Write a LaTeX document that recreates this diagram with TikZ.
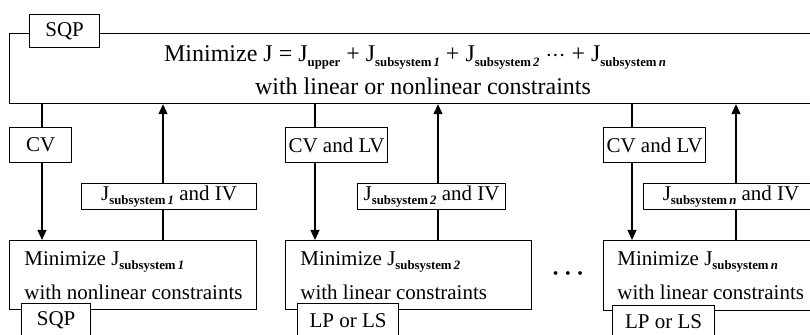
\documentclass[tikz,border=0pt]{standalone}
\usepackage{fontspec}
\setmainfont{Liberation Serif}
\usetikzlibrary{arrows.meta, positioning}

\newcommand{\lowsub}[1]{\raisebox{-0.45ex}{\fontsize{6.4}{7}\selectfont\bfseries #1}}
\newcommand{\Jsub}[1]{J\lowsub{subsystem\,\textit{#1}}}

\begin{document}
\begin{tikzpicture}[
    x=0.5pt, y=-0.5pt,
    frame/.style={rectangle, draw, semithick, anchor=north west, inner sep=0pt},
    tag/.style={rectangle, draw, semithick, fill=white, anchor=north west,
                inner sep=0pt, font=\fontsize{10.5}{12}\selectfont},
    txt/.style={inner sep=0pt, font=\fontsize{10.5}{12}\selectfont},
    toptxt/.style={inner sep=0pt, font=\fontsize{12}{14}\selectfont},
    link/.style={semithick},
    arr/.style={semithick, -{Triangle[length=5pt, width=4.5pt]}},
]
\useasboundingbox (0,0) rectangle (810,335);

% Upper level
\node[frame, minimum width=405pt, minimum height=35pt] (top) at (9,33) {};
\node[tag, minimum width=35pt, minimum height=16.5pt] (sqp0) at (29,14) {SQP};
\node[toptxt] (obj) at (415,57)
     {Minimize J = J\lowsub{upper} + \Jsub{1} + \Jsub{2} ${\cdot}{\cdot}{\cdot}$ + \Jsub{n}};
\node[toptxt] (cons) at (423,86) {with linear or nonlinear constraints};

% Subsystem 1
\node[tag, minimum width=31pt, minimum height=17.5pt] (cv1) at (9,127) {CV};
\node[tag, minimum width=87.5pt, minimum height=13pt] (jiv1) at (81,183) {\Jsub{1} and IV};
\node[frame, minimum width=123.5pt, minimum height=34.5pt] (min1) at (9,240) {};
\node[txt, anchor=west] (mt1) at (24,262) {Minimize \Jsub{1}};
\node[txt, anchor=west] (mc1) at (24,292) {with nonlinear constraints};
\node[tag, minimum width=34.5pt, minimum height=17pt] (alg1) at (21,303) {SQP};

% Subsystem 2
\node[tag, minimum width=51pt, minimum height=17.5pt] (cv2) at (285,127) {CV and LV};
\node[tag, minimum width=74pt, minimum height=13pt] (jiv2) at (357,183) {\Jsub{2} and IV};
\node[frame, minimum width=123pt, minimum height=34.5pt] (min2) at (285,240) {};
\node[txt, anchor=west] (mt2) at (300,262) {Minimize \Jsub{2}};
\node[txt, anchor=west] (mc2) at (300,292) {with linear constraints};
\node[tag, minimum width=50.5pt, minimum height=17pt] (alg2) at (297,303) {LP or LS};

\node[txt, font=\fontsize{13}{15}\selectfont\boldmath] (dots) at (568,274) {$\cdots$};

% Subsystem n
\node[tag, minimum width=51pt, minimum height=17.5pt] (cv3) at (603,127) {CV and LV};
\node[tag, minimum width=87.5pt, minimum height=13pt] (jiv3) at (643,183) {\Jsub{n} and IV};
\node[frame, minimum width=123pt, minimum height=35pt] (min3) at (603,240) {};
\node[txt, anchor=west] (mt3) at (617,262) {Minimize \Jsub{n}};
\node[txt, anchor=west] (mc3) at (617,292) {with linear constraints};
\node[tag, minimum width=51pt, minimum height=16pt] (alg3) at (612,305) {LP or LS};

% line positions
\coordinate (d1) at (42,0);
\coordinate (u1) at (163,0);
\coordinate (d2) at (315,0);
\coordinate (u2) at (438,0);
\coordinate (d3) at (632,0);
\coordinate (u3) at (736,0);

\draw[link] (top.south -| d1) -- (cv1.north -| d1);
\draw[arr] (cv1.south -| d1) -- (min1.north -| d1);
\draw[arr] (jiv1.north -| u1) -- (top.south -| u1);
\draw[link] (min1.north -| u1) -- (jiv1.south -| u1);

\draw[link] (top.south -| d2) -- (cv2.north -| d2);
\draw[arr] (cv2.south -| d2) -- (min2.north -| d2);
\draw[arr] (jiv2.north -| u2) -- (top.south -| u2);
\draw[link] (min2.north -| u2) -- (jiv2.south -| u2);

\draw[link] (top.south -| d3) -- (cv3.north -| d3);
\draw[arr] (cv3.south -| d3) -- (min3.north -| d3);
\draw[arr] (jiv3.north -| u3) -- (top.south -| u3);
\draw[link] (min3.north -| u3) -- (jiv3.south -| u3);

\end{tikzpicture}
\end{document}
